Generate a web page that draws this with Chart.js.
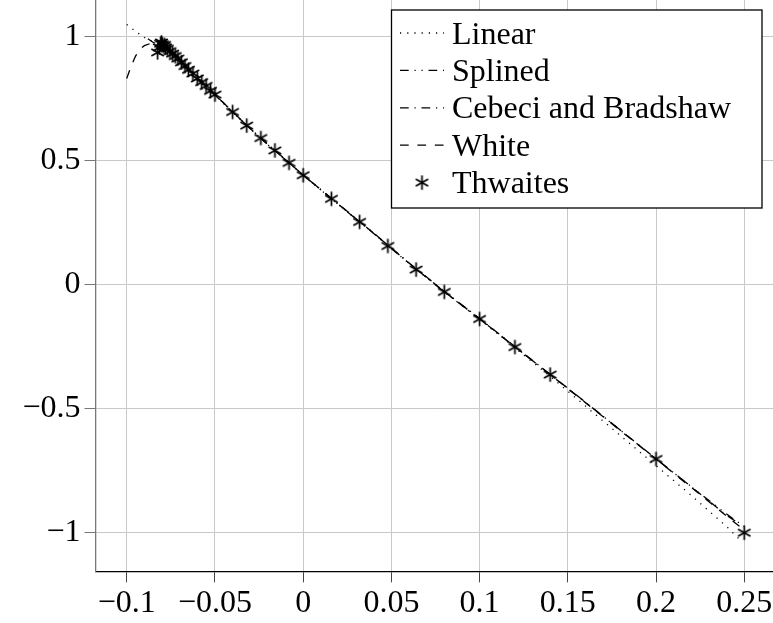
<!DOCTYPE html>
<html>
<head>
<meta charset="utf-8">
<script src="https://cdn.jsdelivr.net/npm/chart.js@4/dist/chart.umd.min.js"></script>
<style>
  html, body { margin: 0; padding: 0; background: #fff; }
  #wrap { width: 773px; height: 623px; }
</style>
</head>
<body>
<div id="wrap"><canvas id="chart" width="773" height="623"></canvas></div>
<script>
// tick labels
const xTicks = [-0.1, -0.05, 0, 0.05, 0.1, 0.15, 0.2, 0.25];
const yTicks = [-1, -0.5, 0, 0.5, 1];

// Linear (dotted)
const linearX = [-0.1, -0.095, -0.09, -0.085, -0.0825, -0.08, -0.075, -0.07, -0.065, -0.06, -0.05, -0.04, -0.03, -0.02, -0.01, 0, 0.02, 0.04, 0.06, 0.08, 0.1, 0.12, 0.14, 0.16, 0.18, 0.2, 0.22, 0.24, 0.2485];
const linearY = [1.047, 1.02, 0.995, 0.978, 0.97, 0.966, 0.94, 0.905, 0.87, 0.83, 0.765, 0.695, 0.627, 0.563, 0.502, 0.44, 0.322, 0.205, 0.085, -0.03, -0.14, -0.255, -0.37, -0.49, -0.61, -0.73, -0.85, -0.975, -1.035];

// Splined (dash dot dot)
const splinedX = [-0.0825, -0.08, -0.075, -0.07, -0.065, -0.06, -0.055, -0.05, -0.04, -0.03, -0.02, -0.01, 0, 0.02, 0.04, 0.06, 0.08, 0.1, 0.12, 0.14, 0.16, 0.18, 0.2, 0.22, 0.24, 0.25];
const splinedY = [0.945, 0.966, 0.94, 0.905, 0.87, 0.83, 0.797, 0.765, 0.695, 0.627, 0.563, 0.502, 0.44, 0.322, 0.205, 0.085, -0.03, -0.139, -0.252, -0.363, -0.475, -0.588, -0.703, -0.815, -0.925, -0.975];

// Cebeci and Bradshaw (dash dot)
const cebeciX = [-0.088, -0.085, -0.0825, -0.08, -0.075, -0.07, -0.065, -0.06, -0.055, -0.05, -0.04, -0.03, -0.02, -0.01, 0, 0.02, 0.04, 0.06, 0.08, 0.1, 0.12, 0.14, 0.16, 0.18, 0.2, 0.22, 0.24, 0.2475];
const cebeciY = [0.99, 0.975, 0.968, 0.964, 0.938, 0.903, 0.868, 0.828, 0.795, 0.763, 0.694, 0.628, 0.565, 0.503, 0.441, 0.324, 0.207, 0.087, -0.028, -0.137, -0.25, -0.362, -0.474, -0.588, -0.702, -0.815, -0.93, -0.965];

// White (dashed)
const whiteX = [-0.1, -0.0975, -0.095, -0.0925, -0.09, -0.085, -0.08, -0.075, -0.07, -0.065, -0.06, -0.055, -0.05, -0.04, -0.03, -0.02, -0.01, 0, 0.02, 0.04, 0.06, 0.08, 0.1, 0.12, 0.14, 0.16, 0.18, 0.2, 0.22, 0.24, 0.25];
const whiteY = [0.83, 0.88, 0.92, 0.948, 0.962, 0.975, 0.968, 0.941, 0.906, 0.871, 0.831, 0.798, 0.766, 0.696, 0.628, 0.564, 0.503, 0.441, 0.323, 0.206, 0.086, -0.029, -0.138, -0.251, -0.363, -0.476, -0.59, -0.703, -0.818, -0.933, -0.99];

// Thwaites (asterisks)
const thwaitesX = [-0.0825, -0.0815, -0.0808, -0.0803, -0.0798, -0.079, -0.0785, -0.078, -0.077, -0.0755, -0.074, -0.0725, -0.071, -0.069, -0.067, -0.065, -0.0625, -0.06, -0.0575, -0.055, -0.0525, -0.05, -0.04, -0.032, -0.024, -0.016, -0.008, 0, 0.016, 0.032, 0.048, 0.064, 0.08, 0.1, 0.12, 0.14, 0.2, 0.25];
const thwaitesY = [0.935, 0.955, 0.97, 0.975, 0.968, 0.96, 0.965, 0.955, 0.95, 0.94, 0.93, 0.92, 0.91, 0.895, 0.88, 0.865, 0.85, 0.83, 0.815, 0.8, 0.78, 0.765, 0.695, 0.64, 0.59, 0.54, 0.49, 0.44, 0.345, 0.252, 0.155, 0.06, -0.03, -0.139, -0.252, -0.363, -0.703, -1.0];

const seriesNames = ['Linear', 'Splined', 'Cebeci and Bradshaw', 'White', 'Thwaites'];

const FONT = '"Liberation Serif", "Times New Roman", serif';

// 构造 pgfplots 风格的六角星号
function makeAsterisk(r, lw) {
    const size = Math.ceil(2 * r + 4);
    const c = document.createElement('canvas');
    c.width = size;
    c.height = size;
    const g = c.getContext('2d');
    g.strokeStyle = '#000';
    g.lineWidth = lw;
    const m = size / 2;
    for (let k = 0; k < 3; k++) {
        const a = Math.PI / 2 + k * Math.PI / 3;
        g.beginPath();
        g.moveTo(m + r * Math.cos(a), m - r * Math.sin(a));
        g.lineTo(m - r * Math.cos(a), m + r * Math.sin(a));
        g.stroke();
    }
    return c;
}
const asterisk = makeAsterisk(7.2, 1.7);

function pts(xs, ys) {
    return xs.map((x, i) => ({ x: x, y: ys[i] }));
}

function tickLabel(v) {
    return String(v).replace('-', '\u2212');
}

const dashes = [[1.2, 6], [8.7, 5.8, 1.2, 5.8, 1.2, 5.8], [8.7, 5.8, 1.2, 5.8], [8.7, 8.7]];

function lineSet(label, xs, ys, dash) {
    return {
        label: label,
        data: pts(xs, ys),
        showLine: true,
        borderColor: '#000',
        borderWidth: 1.3,
        borderDash: dash,
        pointRadius: 0,
        fill: false,
        tension: 0
    };
}

// 图例（带边框）
const boxLegend = {
    id: 'boxLegend',
    afterDraw(chart) {
        const ctx = chart.ctx;
        const left = 391.5, top = 10, right = 762, bottom = 208;
        ctx.save();
        ctx.fillStyle = '#fff';
        ctx.fillRect(left, top, right - left, bottom - top);
        ctx.strokeStyle = '#000';
        ctx.lineWidth = 1.3;
        ctx.strokeRect(left, top, right - left, bottom - top);
        ctx.font = '32px ' + FONT;
        ctx.fillStyle = '#000';
        ctx.textBaseline = 'alphabetic';
        for (let i = 0; i < seriesNames.length; i++) {
            const base = 43.5 + i * 37.4;
            const mid = base - 10.5;
            if (i < 4) {
                ctx.beginPath();
                ctx.setLineDash(dashes[i]);
                ctx.lineWidth = 1.3;
                ctx.moveTo(400, mid);
                ctx.lineTo(444, mid);
                ctx.stroke();
                ctx.setLineDash([]);
            } else {
                ctx.drawImage(asterisk, 422 - asterisk.width / 2, mid - asterisk.height / 2);
            }
            ctx.fillText(seriesNames[i], 452, base);
        }
        ctx.restore();
    }
};

new Chart(document.getElementById('chart'), {
    type: 'scatter',
    data: {
        datasets: [
            lineSet(seriesNames[0], linearX, linearY, dashes[0]),
            lineSet(seriesNames[1], splinedX, splinedY, dashes[1]),
            lineSet(seriesNames[2], cebeciX, cebeciY, dashes[2]),
            lineSet(seriesNames[3], whiteX, whiteY, dashes[3]),
            {
                label: seriesNames[4],
                data: pts(thwaitesX, thwaitesY),
                showLine: false,
                pointStyle: asterisk,
                pointRadius: 7,
                pointHoverRadius: 7
            }
        ]
    },
    options: {
        responsive: false,
        animation: false,
        devicePixelRatio: 1,
        layout: { padding: 0, autoPadding: false },
        plugins: {
            legend: { display: false },
            tooltip: { enabled: false }
        },
        scales: {
            x: {
                type: 'linear',
                min: -0.1177,
                max: 0.2663,
                afterBuildTicks: s => { s.ticks = xTicks.map(v => ({ value: v })); },
                afterFit: s => {
                    s.height = 623 - 571.3;
                    s.paddingLeft = 0; s.paddingRight = 0; s.paddingTop = 0; s.paddingBottom = 0;
                },
                grid: { color: '#c8c8c8', lineWidth: 1, tickLength: 11, tickColor: '#444', drawTicks: true },
                border: { color: '#000', width: 1.3 },
                ticks: {
                    color: '#000',
                    font: { family: FONT, size: 32 },
                    padding: 2,
                    maxRotation: 0,
                    autoSkip: false,
                    callback: v => tickLabel(v)
                }
            },
            y: {
                type: 'linear',
                min: -1.1555,
                max: 1.146,
                afterBuildTicks: s => { s.ticks = yTicks.map(v => ({ value: v })); },
                afterFit: s => {
                    s.width = 95.5;
                    s.paddingLeft = 0; s.paddingRight = 0; s.paddingTop = 0; s.paddingBottom = 0;
                },
                grid: { color: '#c8c8c8', lineWidth: 1, tickLength: 11, tickColor: '#777', drawTicks: true },
                border: { color: '#777', width: 1.3 },
                ticks: {
                    color: '#000',
                    font: { family: FONT, size: 32 },
                    padding: 4,
                    autoSkip: false,
                    callback: v => tickLabel(v)
                }
            }
        }
    },
    plugins: [boxLegend]
});
</script>
</body>
</html>
